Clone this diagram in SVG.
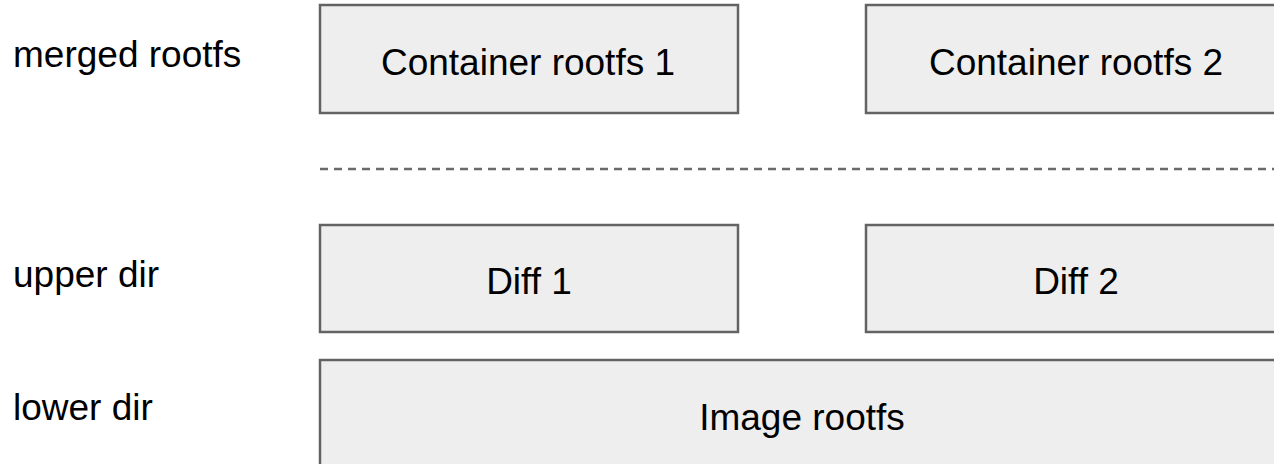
<svg xmlns="http://www.w3.org/2000/svg" width="1274" height="464" viewBox="0 0 1274 464">
<style>
.box{fill:#eeeeee;stroke:#636363;stroke-width:2.5}
.t{font-family:"Liberation Sans",Arial,sans-serif;font-size:37px;fill:#000000}
.c{text-anchor:middle}
.dash{stroke:#6a6a6a;stroke-width:2.5;stroke-dasharray:8 6;fill:none}
</style>
<rect width="1274" height="464" fill="#ffffff"/>
<g id="labels">
<text class="t" x="13" y="67">merged rootfs</text>
<text class="t" x="13" y="287">upper dir</text>
<text class="t" x="13" y="420">lower dir</text>
</g>
<g id="connectors">
<line class="dash" x1="320" y1="169" x2="1274" y2="169"/>
</g>
<g id="container1">
<rect class="box" x="320" y="5" width="418" height="108"/>
<text class="t c" x="528" y="75">Container rootfs 1</text>
</g>
<g id="container2">
<rect class="box" x="866" y="5" width="420" height="108"/>
<text class="t c" x="1076" y="75">Container rootfs 2</text>
</g>
<g id="diff1">
<rect class="box" x="320" y="225" width="418" height="107"/>
<text class="t c" x="529" y="294">Diff 1</text>
</g>
<g id="diff2">
<rect class="box" x="866" y="225" width="420" height="107"/>
<text class="t c" x="1076" y="294">Diff 2</text>
</g>
<g id="image">
<rect class="box" x="320" y="360" width="966" height="120"/>
<text class="t c" x="802" y="430">Image rootfs</text>
</g>
</svg>
